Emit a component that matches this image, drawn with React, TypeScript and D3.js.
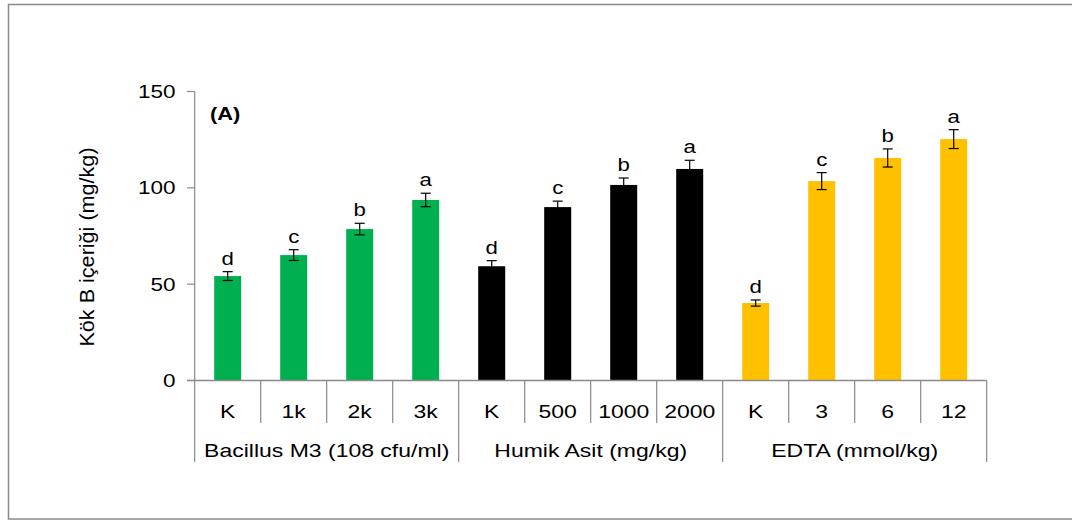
import React from "react";
import * as d3 from "d3";

// Treatment levels along the x axis
const categories = ["K", "1k", "2k", "3k", "K", "500", "1000", "2000", "K", "3", "6", "12"];
// Treatment groups (four levels each)
const groups = ["Bacillus M3 (108 cfu/ml)", "Humik Asit (mg/kg)", "EDTA (mmol/kg)"];
const groupColors = ["#00B050", "#000000", "#FFC000"];
// Root B content (mg/kg) and standard errors
const values = [54.2, 65.1, 78.6, 93.7, 59.3, 90.0, 101.5, 109.8, 40.2, 103.5, 115.5, 125.3];
const errors = [2.3, 2.8, 3.0, 3.5, 2.9, 3.1, 3.6, 4.5, 1.6, 4.4, 4.7, 4.9];
// Significance letters
const letters = ["d", "c", "b", "a", "d", "c", "b", "a", "d", "c", "b", "a"];
const yTicks = [0, 50, 100, 150];

const W = 1072;
const H = 521;
const FONT = "'Liberation Sans', Arial, sans-serif";
const AXIS = "#8a8a8a";

export default function App() {
  const ids = categories.map((_, i) => i);
  const x = d3.scaleBand<number>().domain(ids).range([194.7, 986.7]).padding(0);
  const step = x.step();
  const barW = 27;
  const y = d3.scaleLinear().domain([0, 150]).range([380.5, 91.5]);
  const y0 = y(0);
  const perGroup = categories.length / groups.length;

  const txt = (
    key: string,
    tx: number,
    ty: number,
    s: string,
    opts: { anchor?: string; size?: number; weight?: string; sx?: number } = {}
  ) => (
    <text
      key={key}
      transform={`translate(${tx},${ty}) scale(${opts.sx ?? 1.25},1)`}
      textAnchor={opts.anchor ?? "middle"}
      fontSize={opts.size ?? 18}
      fontWeight={opts.weight ?? "normal"}
      fontFamily={FONT}
      fill="#000"
    >
      {s}
    </text>
  );

  return (
    <svg
      width={W}
      height={H}
      style={{ position: "absolute", left: 0, top: 0, background: "#fff" }}
    >
      {/* chart frame */}
      <rect x={8.5} y={4.5} width={1100} height={514.5} fill="none" stroke={AXIS} strokeWidth={1.5} />

      {/* y axis */}
      <line x1={194.7} x2={194.7} y1={y(150)} y2={y0} stroke={AXIS} strokeWidth={1.2} />
      {yTicks.map((t) => (
        <g key={`yt${t}`}>
          <line x1={187} x2={194.7} y1={y(t)} y2={y(t)} stroke={AXIS} strokeWidth={1.2} />
          {txt(`yl${t}`, 175.5, y(t) + 6.5, String(t), { anchor: "end" })}
        </g>
      ))}

      {/* y axis title */}
      <text
        transform={`translate(94,247) rotate(-90) scale(1.2,1.15)`}
        textAnchor="middle"
        fontSize={18}
        fontFamily={FONT}
        fill="#000"
      >
        Kök B içeriği (mg/kg)
      </text>

      {/* panel label */}
      {txt("panel", 210, 120, "(A)", { anchor: "start", size: 17.5, weight: "bold" })}

      {/* bars */}
      {values.map((v, i) => {
        const cx = (x(i) as number) + step / 2;
        return (
          <rect
            key={`b${i}`}
            x={cx - barW / 2}
            y={y(v)}
            width={barW}
            height={y0 - y(v)}
            fill={groupColors[Math.floor(i / perGroup)]}
          />
        );
      })}

      {/* error bars */}
      {values.map((v, i) => {
        const cx = (x(i) as number) + step / 2;
        const top = y(v + errors[i]);
        const bot = y(v - errors[i]);
        return (
          <g key={`e${i}`} stroke="#000" strokeWidth={1.2}>
            <line x1={cx} x2={cx} y1={top} y2={bot} />
            <line x1={cx - 5} x2={cx + 5} y1={top} y2={top} />
            <line x1={cx - 5} x2={cx + 5} y1={bot} y2={bot} />
          </g>
        );
      })}

      {/* significance letters */}
      {values.map((v, i) => {
        const cx = (x(i) as number) + step / 2;
        return txt(`l${i}`, cx, y(v + errors[i]) - 7, letters[i], { size: 18.5, sx: 1.2 });
      })}

      {/* x axis */}
      <line x1={187} x2={986.7} y1={y0} y2={y0} stroke={AXIS} strokeWidth={1.5} />
      {d3.range(categories.length + 1).map((i) => {
        const xx = 194.7 + i * step;
        const isGroup = i % perGroup === 0;
        return (
          <line
            key={`d${i}`}
            x1={xx}
            x2={xx}
            y1={y0}
            y2={isGroup ? 462 : 423}
            stroke={AXIS}
            strokeWidth={1.2}
          />
        );
      })}
      {categories.map((c, i) =>
        txt(`c${i}`, (x(i) as number) + step / 2, 417.5, c, { size: 19, sx: 1.21 })
      )}
      {groups.map((g, gi) => {
        const cx = 194.7 + (gi + 0.5) * perGroup * step;
        return txt(`g${gi}`, cx, 456.5, g, { size: 19, sx: 1.21 });
      })}
    </svg>
  );
}
